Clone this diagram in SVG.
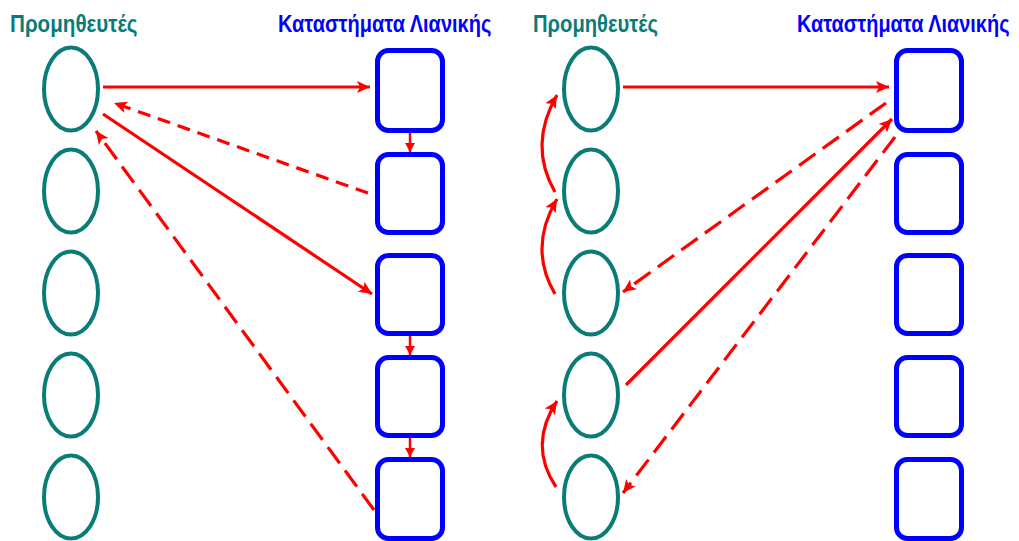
<svg xmlns="http://www.w3.org/2000/svg" width="1019" height="541" viewBox="0 0 1019 541">
<defs>
<style>
.sup{fill:none;stroke:#0a7c78;stroke-width:4}
.ret{fill:none;stroke:#0000ff;stroke-width:5}
.t{font-family:"Liberation Sans",Arial,sans-serif;font-weight:bold;font-size:23px}
.ts{fill:#0a7c78}
.tr{fill:#0000ff}
.a{fill:none;stroke:#ff0000;stroke-width:3.2}
.d1{stroke-dasharray:13 8}
.d2{stroke-dasharray:20 9}
.s{fill:none;stroke:#ff0000;stroke-width:2.5}
</style>
<marker id="ah" markerUnits="userSpaceOnUse" markerWidth="14" markerHeight="14" viewBox="0 0 14 14" refX="13" refY="7" orient="auto">
<path d="M0,1 L13,7 L0,13 L3,7 z" fill="#ff0000"/>
</marker>
<marker id="ahs" markerUnits="userSpaceOnUse" markerWidth="10" markerHeight="10" viewBox="0 0 10 10" refX="9" refY="5" orient="auto">
<path d="M0,0 L9,5 L0,10 z" fill="#ff0000"/>
</marker>
</defs>
<rect width="1019" height="541" fill="#ffffff"/>

<text class="t ts" transform="translate(10,32) scale(0.85,1)" x="0" y="0" textLength="150" lengthAdjust="spacingAndGlyphs">Προμηθευτές</text>
<text class="t tr" transform="translate(278,32) scale(0.85,1)" x="0" y="0" textLength="251" lengthAdjust="spacingAndGlyphs">Καταστήματα Λιανικής</text>
<text class="t ts" transform="translate(533,32) scale(0.85,1)" x="0" y="0" textLength="147" lengthAdjust="spacingAndGlyphs">Προμηθευτές</text>
<text class="t tr" transform="translate(797,32) scale(0.85,1)" x="0" y="0" textLength="250" lengthAdjust="spacingAndGlyphs">Καταστήματα Λιανικής</text>

<g id="L_s1"><ellipse class="sup" cx="71" cy="89" rx="27" ry="41.5"/></g>
<g id="L_s2"><ellipse class="sup" cx="71" cy="191" rx="27" ry="41.5"/></g>
<g id="L_s3"><ellipse class="sup" cx="71" cy="293" rx="27" ry="41.5"/></g>
<g id="L_s4"><ellipse class="sup" cx="71" cy="395" rx="27" ry="41.5"/></g>
<g id="L_s5"><ellipse class="sup" cx="71" cy="497" rx="27" ry="41.5"/></g>

<g id="L_r1"><rect class="ret" x="377.5" y="50.5" width="65" height="80" rx="11"/></g>
<g id="L_r2"><rect class="ret" x="377.5" y="154.5" width="65" height="78" rx="11"/></g>
<g id="L_r3"><rect class="ret" x="377.5" y="255.5" width="65" height="78" rx="11"/></g>
<g id="L_r4"><rect class="ret" x="377.5" y="357.5" width="65" height="78" rx="11"/></g>
<g id="L_r5"><rect class="ret" x="377.5" y="459.5" width="65" height="79" rx="11"/></g>

<g id="R_s1"><ellipse class="sup" cx="591" cy="89" rx="27" ry="41.5"/></g>
<g id="R_s2"><ellipse class="sup" cx="591" cy="191" rx="27" ry="41.5"/></g>
<g id="R_s3"><ellipse class="sup" cx="591" cy="293" rx="27" ry="41.5"/></g>
<g id="R_s4"><ellipse class="sup" cx="591" cy="395" rx="27" ry="41.5"/></g>
<g id="R_s5"><ellipse class="sup" cx="591" cy="497" rx="27" ry="41.5"/></g>

<g id="R_r1"><rect class="ret" x="896.5" y="50.5" width="65" height="80" rx="11"/></g>
<g id="R_r2"><rect class="ret" x="896.5" y="154.5" width="65" height="78" rx="11"/></g>
<g id="R_r3"><rect class="ret" x="896.5" y="255.5" width="65" height="78" rx="11"/></g>
<g id="R_r4"><rect class="ret" x="896.5" y="357.5" width="65" height="78" rx="11"/></g>
<g id="R_r5"><rect class="ret" x="896.5" y="459.5" width="65" height="79" rx="11"/></g>

<g id="connectors">
<line class="a" x1="103" y1="87" x2="370" y2="87" marker-end="url(#ah)"/>
<line class="a d1" x1="368" y1="193" x2="114" y2="103" marker-end="url(#ah)"/>
<line class="a" x1="103" y1="114" x2="372" y2="294" marker-end="url(#ah)"/>
<line class="a d2" x1="374" y1="510" x2="96" y2="131" marker-end="url(#ah)"/>
<line class="s" x1="410" y1="133" x2="410" y2="152" marker-end="url(#ahs)"/>
<line class="s" x1="410" y1="336" x2="410" y2="355" marker-end="url(#ahs)"/>
<line class="s" x1="410" y1="438" x2="410" y2="457" marker-end="url(#ahs)"/>

<line class="a" x1="623" y1="87" x2="889" y2="87" marker-end="url(#ah)"/>
<line class="a d2" x1="886" y1="103" x2="623" y2="292" marker-end="url(#ah)"/>
<line class="a" x1="626" y1="385" x2="892" y2="119" marker-end="url(#ah)"/>
<line class="a d2" x1="895" y1="137" x2="623" y2="493" marker-end="url(#ah)"/>
<path class="a" d="M555,192 Q528,145 557,95" marker-end="url(#ah)"/>
<path class="a" d="M555,294 Q528,248 557,199" marker-end="url(#ah)"/>
<path class="a" d="M556,487 Q528,445 557,401" marker-end="url(#ah)"/>
</g>
</svg>
